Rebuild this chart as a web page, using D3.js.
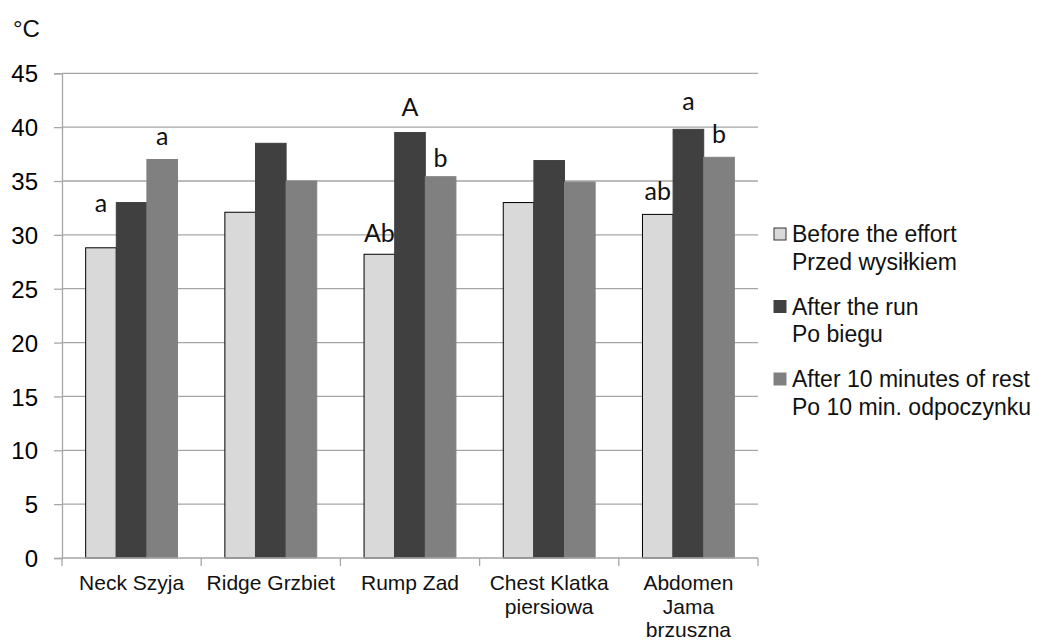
<!DOCTYPE html>
<html>
<head>
<meta charset="utf-8">
<script src="https://cdn.jsdelivr.net/npm/d3@7"></script>
<style>
  html, body { margin: 0; padding: 0; background: #fff; }
  svg { display: block; font-family: "Liberation Sans", Arial, sans-serif; }
</style>
</head>
<body>
<svg id="chart" width="1042" height="641"></svg>
<script>
// body regions, each label is "english polish" (wrapped like the original)
var categories = ['Neck Szyja', 'Ridge Grzbiet', 'Rump Zad', 'Chest Klatka piersiowa', 'Abdomen Jama brzuszna'];
var categoryLines = [['Neck Szyja'], ['Ridge Grzbiet'], ['Rump Zad'], ['Chest Klatka', 'piersiowa'], ['Abdomen', 'Jama', 'brzuszna']];

var seriesKeys = ['before', 'after', 'rest'];
var seriesNames = [
  ['Before the effort', 'Przed wysiłkiem'],
  ['After the run', 'Po biegu'],
  ['After 10 minutes of rest', 'Po 10 min. odpoczynku']
];

// temperatures, °C
var before = [28.8, 32.1, 28.2, 33.0, 31.9];
var after  = [33.0, 38.5, 39.5, 36.9, 39.8];
var rest   = [37.0, 35.0, 35.4, 34.9, 37.2];

var yTicks = [0, 5, 10, 15, 20, 25, 30, 35, 40, 45];

// significance letters: category index, series, text, level (°C) of the baseline
var letters = [
  [0, 'before', 'a', 32.1],
  [0, 'rest', 'a', 38.3],
  [2, 'before', 'Ab', 29.3],
  [2, 'after', 'A', 41.0],
  [2, 'rest', 'b', 36.3],
  [4, 'before', 'ab', 33.2],
  [4, 'after', 'a', 41.6],
  [4, 'rest', 'b', 38.5]
];

var colors = { before: '#d9d9d9', after: '#404040', rest: '#808080' };
var gridColor = '#a6a6a6';

var svg = d3.select('#chart');
var plotLeft = 62, plotRight = 758, plotTop = 73.3, plotBottom = 558;

var x = d3.scaleBand().domain(categories).range([plotLeft, plotRight]).paddingInner(0.34).paddingOuter(0.17);
var xs = d3.scaleBand().domain(seriesKeys).range([0, x.bandwidth()]);
var y = d3.scaleLinear().domain([0, 45]).range([plotBottom, plotTop]);

var data = categories.map(function(c, i) {
  return { cat: c, before: before[i], after: after[i], rest: rest[i] };
});

// gridlines
svg.append('g').selectAll('line').data(yTicks.filter(function(t) { return t > 0; }))
  .enter().append('line')
  .attr('x1', plotLeft).attr('x2', plotRight)
  .attr('y1', function(d) { return y(d); }).attr('y2', function(d) { return y(d); })
  .attr('stroke', gridColor).attr('stroke-width', 1.3);

// y axis
var yAxis = svg.append('g').attr('transform', 'translate(' + plotLeft + ',0)')
  .call(d3.axisLeft(y).tickValues(yTicks).tickSize(8).tickPadding(16));
yAxis.select('.domain').attr('stroke', gridColor).attr('stroke-width', 1.3);
yAxis.selectAll('.tick line').attr('stroke', gridColor).attr('stroke-width', 1.3);
yAxis.selectAll('.tick text').attr('font-size', 24).attr('fill', '#000')
  .attr('font-family', '"Liberation Sans", Arial, sans-serif').attr('dy', '0.36em');

// bars
var groups = svg.append('g').selectAll('g').data(data).enter().append('g')
  .attr('transform', function(d) { return 'translate(' + x(d.cat) + ',0)'; });

groups.selectAll('rect').data(function(d) {
  return seriesKeys.map(function(k) { return { key: k, value: d[k] }; });
}).enter().append('rect')
  .attr('x', function(d) { return xs(d.key); })
  .attr('y', function(d) { return y(d.value); })
  .attr('width', xs.bandwidth())
  .attr('height', function(d) { return y(0) - y(d.value); })
  .attr('fill', function(d) { return colors[d.key]; })
  .attr('stroke', function(d) { return d.key == 'before' ? '#000' : colors[d.key]; })
  .attr('stroke-width', 1);

// x axis (category boundaries)
var step = x.step();
var boundaries = d3.range(categories.length + 1).map(function(i) { return plotLeft + i * step; });
svg.append('line').attr('x1', plotLeft).attr('x2', plotRight).attr('y1', plotBottom).attr('y2', plotBottom)
  .attr('stroke', gridColor).attr('stroke-width', 1.3);
svg.append('g').selectAll('line').data(boundaries).enter().append('line')
  .attr('x1', function(d) { return d; }).attr('x2', function(d) { return d; })
  .attr('y1', plotBottom).attr('y2', plotBottom + 8)
  .attr('stroke', gridColor).attr('stroke-width', 1.3);

var catText = svg.append('g').selectAll('text').data(categories).enter().append('text')
  .attr('x', function(d) { return x(d) + x.bandwidth() / 2; })
  .attr('y', 590)
  .attr('text-anchor', 'middle').attr('font-size', 21).attr('fill', '#111');
catText.selectAll('tspan').data(function(d, i) { return categoryLines[i]; })
  .enter().append('tspan')
  .attr('x', function() { return d3.select(this.parentNode).attr('x'); })
  .attr('dy', function(d, i) { return i == 0 ? 0 : 23.5; })
  .text(function(d) { return d; });

// significance letters
svg.append('g').selectAll('text').data(letters).enter().append('text')
  .attr('x', function(d) { return x(categories[d[0]]) + xs(d[1]) + xs.bandwidth() / 2; })
  .attr('y', function(d) { return y(d[3]); })
  .attr('text-anchor', 'middle')
  .attr('font-family', 'Lato, "Open Sans", sans-serif')
  .attr('font-size', 25).attr('fill', '#111')
  .text(function(d) { return d[2]; });

// unit
svg.append('text').attr('x', 13).attr('y', 37).attr('font-size', 24).attr('fill', '#111').text('°C');

// legend
var legend = svg.append('g').selectAll('g').data(seriesKeys).enter().append('g')
  .attr('transform', function(d, i) { return 'translate(0,' + (242 + i * 72.5) + ')'; });
legend.append('rect')
  .attr('x', 774).attr('y', -14).attr('width', 12).attr('height', 12)
  .attr('fill', function(d) { return colors[d]; })
  .attr('stroke', function(d) { return d == 'before' ? '#333' : colors[d]; })
  .attr('stroke-width', 1);
legend.selectAll('text').data(function(d, i) { return seriesNames[i]; })
  .enter().append('text')
  .attr('x', 792).attr('y', function(d, i) { return i * 27.5; })
  .attr('font-size', 23).attr('fill', '#111')
  .text(function(d) { return d; });
</script>
</body>
</html>
